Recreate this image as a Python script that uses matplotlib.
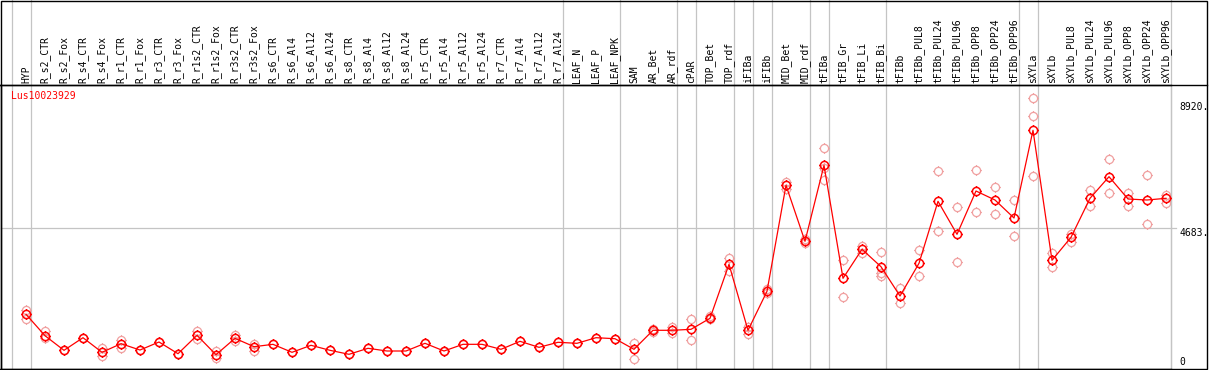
import numpy as np
import matplotlib
matplotlib.use("Agg")
import matplotlib.pyplot as plt
from matplotlib.path import Path
from matplotlib.lines import Line2D
from matplotlib.patches import Rectangle

# ---------------- data ----------------
categories = ["HYP", "R_s2_CTR", "R_s2_Fox", "R_s4_CTR", "R_s4_Fox", "R_r1_CTR", "R_r1_Fox",
              "R_r3_CTR", "R_r3_Fox", "R_r1s2_CTR", "R_r1s2_Fox", "R_r3s2_CTR", "R_r3s2_Fox",
              "R_s6_CTR", "R_s6_Al4", "R_s6_Al12", "R_s6_Al24", "R_s8_CTR", "R_s8_Al4", "R_s8_Al12",
              "R_s8_Al24", "R_r5_CTR", "R_r5_Al4", "R_r5_Al12", "R_r5_Al24", "R_r7_CTR", "R_r7_Al4",
              "R_r7_Al12", "R_r7_Al24", "LEAF_N", "LEAF_P", "LEAF_NPK", "SAM", "AR_Bet", "AR_rdf",
              "cPAR", "TOP_Bet", "TOP_rdf", "iFIBa", "iFIBb", "MID_Bet", "MID_rdf", "tFIBa",
              "tFIB_Gr", "tFIB_Li", "tFIB_Bi", "tFIBb", "tFIBb_PUL8", "tFIBb_PUL24", "tFIBb_PUL96",
              "tFIBb_OPP8", "tFIBb_OPP24", "tFIBb_OPP96", "sXYLa", "sXYLb", "sXYLb_PUL8",
              "sXYLb_PUL24", "sXYLb_PUL96", "sXYLb_OPP8", "sXYLb_OPP24", "sXYLb_OPP96"]

means = [1785, 1064, 572, 997, 505, 795, 582, 852, 458, 1077, 424, 976, 694,
         774, 505, 741, 572, 438, 640, 549, 549, 808, 549, 774, 774, 606, 875, 673, 842,
         808, 997, 963, 606, 1246, 1246, 1279, 1650, 3468, 1246, 2559, 6128, 4242,
         6801, 2997, 3973, 3387, 2401, 3502, 5589, 4478, 5936, 5633, 5027,
         7980, 3603, 4377, 5690, 6418, 5667, 5633, 5690]

replicates = [
    [1929, 1616], [1212, 976], [572], [997], [650, 380], [919, 650], [582], [852], [458],
    [1222, 943], [559, 313], [1077, 896], [774, 559], [774], [505], [741], [572], [438],
    [640], [549], [549], [808], [549], [774], [774], [606], [875], [673], [842],
    [808], [997], [963], [808, 290], [1279, 1189], [1347, 1145], [1616, 909],
    [1727, 1616], [3670, 3253], [1367, 1121], [2646, 2492], [6249, 5993], [4310, 4175],
    [7374, 6700, 6306], [3603, 2357], [4084, 3838], [3872, 3185, 3074], [2660, 2155],
    [3939, 3074], [6599, 4579], [5387, 3535], [6633, 5219], [6061, 5152], [5633, 4421],
    [9057, 8451, 6431], [3848, 3367], [4488, 4219], [5960, 5421], [7003, 5859],
    [5879, 5441], [6465, 4815], [5811, 5542],
]

group_ends = [-1, 0, 28, 31, 34, 35, 37, 38, 39, 41, 42, 45, 52, 53, 60]
ytick_values = [0, 4683, 8920]
ytick_labels = ["0", "4683.", "8920."]
gene_name = "Lus10023929"

# ---------------- layout ----------------
W, H = 1209, 370
fig = plt.figure(figsize=(W / 100, H / 100), dpi=100)
fig.patch.set_facecolor("white")

ax_left, ax_right, ax_top, ax_bot = 0.5, 1171, 85, 369.3
ax = fig.add_axes([ax_left / W, 1 - ax_bot / H, (ax_right - ax_left) / W, (ax_bot - ax_top) / H])

x0, dx = 26, 19  # pixel position of first column & spacing
ax.set_xlim((ax_left - x0) / dx, (ax_right - x0) / dx)
ax.set_ylim(-67, 9505)

MONO = "DejaVu Sans Mono"
RED = "#ff0000"
PINK = "#f0a0a0"
GRAY = "#c4c4c4"

# marker: circle with four small ticks
th = np.linspace(0, 2 * np.pi, 65)
verts = [(np.cos(t), np.sin(t)) for t in th]
codes = [Path.MOVETO] + [Path.LINETO] * (len(th) - 1)
for (a, b) in [((0, 1), (0, 1.3)), ((0, -1), (0, -1.3)), ((1, 0), (1.3, 0)), ((-1, 0), (-1.3, 0))]:
    verts += [a, b]
    codes += [Path.MOVETO, Path.LINETO]
mk = Path(verts, codes)
MS = 7.6

xs = np.arange(len(categories))

# separators
span = ax_bot / (ax_bot - ax_top)
for g in group_ends:
    ax.axvline(g + 0.24, ymin=0, ymax=span, color=GRAY, lw=0.9, clip_on=False, zorder=1)

# gridline
ax.plot([0, 1175 / (ax_right - ax_left)], [4683, 4683], transform=ax.get_yaxis_transform(),
        color=GRAY, lw=0.9, clip_on=False, zorder=1)

# replicates
for i, reps in enumerate(replicates):
    ax.plot([xs[i]] * len(reps), reps, ls="none", marker=mk, ms=MS, mec=PINK,
            mfc="none", mew=0.9, zorder=2)

ax.plot(xs, means, color=RED, lw=0.9, zorder=3)
ax.plot(xs, means, ls="none", marker=mk, ms=MS, mec=RED, mfc="none", mew=1.1, zorder=4)

# top labels
ax.xaxis.tick_top()
ax.set_xticks(xs)
ax.set_xticklabels(categories, rotation=90, fontfamily=MONO, fontsize=7)
ax.tick_params(axis="x", length=0, pad=1.5)

# right labels
ax.yaxis.tick_right()
ax.set_yticks(ytick_values)
ax.set_yticklabels(ytick_labels, fontfamily=MONO, fontsize=7)
ax.tick_params(axis="y", length=0, pad=6)
for t, va in zip(ax.yaxis.get_major_ticks(), ["bottom", "top", "top"]):
    t.label2.set_va(va)

for s in ["left", "bottom", "top"]:
    ax.spines[s].set_color("black")
    ax.spines[s].set_linewidth(1.0)
ax.spines["right"].set_color(GRAY)
ax.spines["right"].set_linewidth(0.9)

ax.text(10 / (ax_right - ax_left), (ax_bot - 91) / (ax_bot - ax_top), gene_name, color=RED,
        fontfamily=MONO, fontsize=7, ha="left", va="top", transform=ax.transAxes)

# outer frame and header line
fig.add_artist(Rectangle((0.5 / W, 1 - 369.3 / H), 1206.5 / W, 368.8 / H, fill=False,
                         ec="black", lw=1.0, transform=fig.transFigure))
fig.add_artist(Line2D([0, 1207 / W], [1 - 85 / H, 1 - 85 / H], color="black", lw=1.0,
                      transform=fig.transFigure))

fig.savefig("out.png", dpi=100, facecolor="white")
